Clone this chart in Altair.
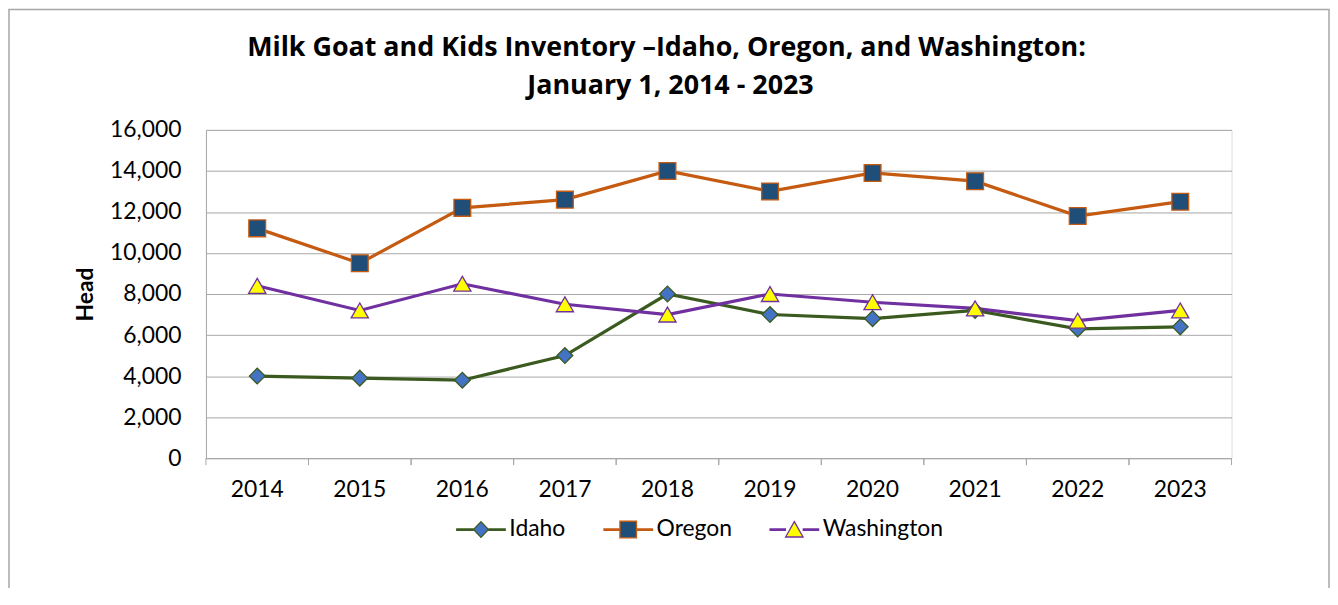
import altair as alt
import pandas as pd

years = ["2014", "2015", "2016", "2017", "2018", "2019", "2020", "2021", "2022", "2023"]
idaho = [4000, 3900, 3800, 5000, 8000, 7000, 6800, 7200, 6300, 6400]
oregon = [11200, 9500, 12200, 12600, 14000, 13000, 13900, 13500, 11800, 12500]
washington = [8400, 7200, 8500, 7500, 7000, 8000, 7600, 7300, 6700, 7200]

series = ["Idaho", "Oregon", "Washington"]
line_colors = ["#3A5A1F", "#C55A11", "#7030A0"]
fill_colors = ["#4472C4", "#1F4E79", "#FFFF00"]
marker_shapes = ["diamond", "square", "triangle-up"]
marker_sizes = [250, 285, 300]
y_ticks = [0, 2000, 4000, 6000, 8000, 10000, 12000, 14000, 16000]

title_line1 = ["Milk Goat and Kids Inventory \u2013Idaho, Oregon, and Washington:"]
title_line2 = ["January 1, 2014 - 2023"]

# legend symbols: line segment (two thin parallel strokes) + marker
legend_paths = [
    "M-3,-0.09L-0.9,-0.09M-3,0.09L-0.9,0.09M0.9,-0.09L3,-0.09M0.9,0.09L3,0.09"
    "M0,-0.95L0.9,0L0,0.95L-0.9,0Z",
    "M-3,-0.09L-1,-0.09M-3,0.09L-1,0.09M1,-0.09L3,-0.09M1,0.09L3,0.09"
    "M-1,-1L1,-1L1,1L-1,1Z",
    "M-3,-0.09L-1,-0.09M-3,0.09L-1,0.09M1,-0.09L3,-0.09M1,0.09L3,0.09"
    "M0,-0.95L1.05,0.9L-1.05,0.9Z",
]

values = {"Idaho": idaho, "Oregon": oregon, "Washington": washington}
df = pd.DataFrame(
    [{"year": y, "series": s, "value": v}
     for s in series for y, v in zip(years, values[s])]
)
years_df = pd.DataFrame({"year": years})

FONT = "Lato"
TFONT = "Open Sans"
GRID = "#A6A6A6"

x_axis = alt.Axis(title=None, ticks=False, tickSize=0, labelAngle=0,
                  labelFont=FONT, labelFontSize=23, labelColor="black",
                  labelPadding=21, domainColor=GRID, domainWidth=1)
y_axis = alt.Axis(title="Head", values=y_ticks, format=",.0f", ticks=False, tickSize=0,
                  labelFont=FONT, labelFontSize=23, labelColor="black",
                  labelPadding=25, domainColor=GRID, gridColor=GRID, gridWidth=1,
                  titleFont=FONT, titleFontSize=23, titleFontWeight="bold",
                  titleColor="black", titleAngle=270, titleAlign="center",
                  titleBaseline="middle", titleX=-121, titleY=165)

x_scale = alt.Scale(paddingInner=0, paddingOuter=0)
y_scale = alt.Scale(domain=[0, 16000], nice=False)

X = alt.X("year:O", scale=x_scale, axis=x_axis)
Y = alt.Y("value:Q", scale=y_scale, axis=y_axis)

base = alt.Chart(df)

layers = []
# outer frame of the chart (bottom edge falls outside the page, as in the original)
layers.append(
    alt.Chart(years_df.head(1)).mark_rect(fill=None, stroke="#A6A6A6", strokeWidth=1.5).encode(
        x=alt.value(-198), x2=alt.value(1129), y=alt.value(-121), y2=alt.value(520))
)

# axis tick marks at the band edges of the category axis
for bp in (0, 1):
    layers.append(
        alt.Chart(years_df).mark_rule(color=GRID, strokeWidth=1).encode(
            x=alt.X("year:O", scale=x_scale, axis=x_axis, bandPosition=bp),
            y=alt.value(330), y2=alt.value(337))
    )

for s, lc in zip(series, line_colors):
    layers.append(
        base.transform_filter(alt.datum.series == s)
        .mark_line(color=lc, strokeWidth=3.2)
        .encode(x=X, y=Y)
    )
for s, lc, fc, sh, sz in zip(series, line_colors, fill_colors, marker_shapes, marker_sizes):
    layers.append(
        base.transform_filter(alt.datum.series == s)
        .mark_point(filled=True, fill=fc, stroke=lc, strokeWidth=1.3, shape=sh,
                    size=sz, opacity=1)
        .encode(x=X, y=Y)
    )

# legend-only layer (no data rows drawn)
legend = alt.Legend(title=None, orient="none", legendX=265, legendY=390,
                    direction="horizontal", padding=0, symbolSize=278,
                    symbolStrokeWidth=1.3, labelFont=FONT, labelFontSize=23,
                    labelColor="black", labelOffset=17, columnPadding=34,
                    symbolOpacity=1)
layers.append(
    base.transform_filter("false")
    .mark_point(filled=True, opacity=1, strokeWidth=1.3)
    .encode(
        x=X, y=Y,
        fill=alt.Fill("series:N", scale=alt.Scale(domain=series, range=fill_colors), legend=legend),
        stroke=alt.Stroke("series:N", scale=alt.Scale(domain=series, range=line_colors), legend=legend),
        shape=alt.Shape("series:N", scale=alt.Scale(domain=series, range=legend_paths), legend=legend),
    )
)

# chart title (two centred lines)
for lines, cx, by in ((title_line1, 463, -74), (title_line2, 467, -36)):
    layers.append(
        alt.Chart(pd.DataFrame({"t": lines})).mark_text(
            font=TFONT, fontSize=27, fontWeight="bold", color="black",
            align="center", baseline="alphabetic"
        ).encode(text="t:N", x=alt.value(cx), y=alt.value(by))
    )

chart = alt.layer(*layers).properties(
    width=1031, height=330,
    autosize=alt.AutoSizeParams(type="none"),
    padding={"left": 199, "top": 121, "right": 99, "bottom": 129},
).configure_view(stroke=None).configure(background="white", font=FONT)

chart.save("out.html", embed_options={"renderer": "svg", "actions": False})
